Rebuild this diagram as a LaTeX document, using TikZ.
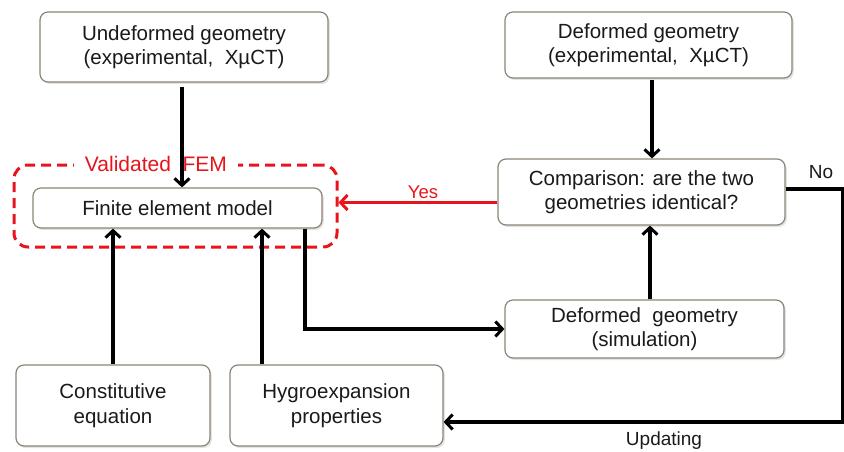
\documentclass[tikz,border=0pt]{standalone}
\usepackage{fontspec}
\setmainfont{Liberation Sans}
\usetikzlibrary{arrows.meta,shadows}
\definecolor{boxline}{HTML}{8C8478}
\definecolor{txt}{HTML}{1A1A1A}
\definecolor{vred}{HTML}{E8141B}
\tikzset{
  flowbox/.style={draw=boxline, line width=1.2pt, rounded corners=8pt, fill=white,
    align=center, text=txt, font=\fontsize{20.5}{24.5}\selectfont, inner sep=2pt,
    drop shadow={opacity=0.22, shadow xshift=1.8pt, shadow yshift=-2pt}},
  arr/.style={line width=3.5pt, -{Straight Barb[length=7pt,width=15pt,line width=3pt]}},
  redarr/.style={arr, line width=3pt, draw=vred},
  valbox/.style={draw=vred, line width=3pt, dash pattern=on 10pt off 6pt, rounded corners=14pt},
  lbl/.style={font=\fontsize{19}{22}\selectfont, text=txt}
}
\begin{document}
\begin{tikzpicture}[x=1pt,y=-1pt]
\useasboundingbox (0,0) rectangle (844,452);
% boxes
\node[flowbox, minimum width=288pt, minimum height=70pt] (und) at (184,47) {Undeformed geometry\\(experimental,\ \ XµCT)};
\node[flowbox, minimum width=287pt, minimum height=66pt] (dexp) at (648.5,45) {Deformed geometry\\(experimental,\ \ XµCT)};
\node[valbox, minimum width=323pt, minimum height=82pt] (val) at (175.5,206) {};
\node[flowbox, minimum width=289pt, minimum height=40pt] (fem) at (177.5,208) {Finite element model};
\node[font=\fontsize{21}{24}\selectfont, text=vred, fill=white, inner xsep=11pt, inner ysep=0pt] (vlab) at (156,164) {Validated\ \ FEM};
\node[flowbox, minimum width=287pt, minimum height=66pt] (cmp) at (641.5,192) {Comparison: are the two\\geometries identical?};
\node[flowbox, minimum width=279pt, minimum height=58pt] (dsim) at (644.5,329) {Deformed\ \ geometry\\(simulation)};
\node[flowbox, minimum width=194pt, minimum height=81pt] (con) at (113,405.5) {Constitutive\\equation};
\node[flowbox, minimum width=213pt, minimum height=81pt] (hyg) at (336.5,405.5) {Hygroexpansion\\properties};
% connectors
\draw[arr] ([xshift=-2pt,yshift=-4pt]und.south) -- ([xshift=-2pt]und.south |- fem.north);
\draw[arr] ([xshift=3.5pt,yshift=-1pt]dexp.south) -- ([xshift=3.5pt]dexp.south |- cmp.north);
\coordinate (ys) at ([yshift=-10.5pt]cmp.west);
\draw[redarr] (ys) -- (ys -| val.east);
\node[font=\fontsize{18.5}{20}\selectfont, text=vred] (yes) at (423,192) {Yes};
\draw[arr] (con.north) -- (con.north |- fem.south);
\draw[arr] ([xshift=-74.5pt]hyg.north) -- ([xshift=-74.5pt]hyg.north |- fem.south);
\draw[arr] ([xshift=127.5pt]fem.south) |- (dsim.west);
\draw[arr] ([xshift=5.5pt]dsim.north) -- ([xshift=5.5pt]dsim.north |- cmp.south);
\coordinate (nc) at ([xshift=57pt,yshift=3pt]cmp.east);
\draw[arr] ([yshift=3pt]cmp.east) -- (nc) |- ([yshift=-16.5pt]hyg.east);
\node[lbl] (no) at (821,172) {No};
\node[lbl] (upd) at (664,441) {Updating};
\end{tikzpicture}
\end{document}
